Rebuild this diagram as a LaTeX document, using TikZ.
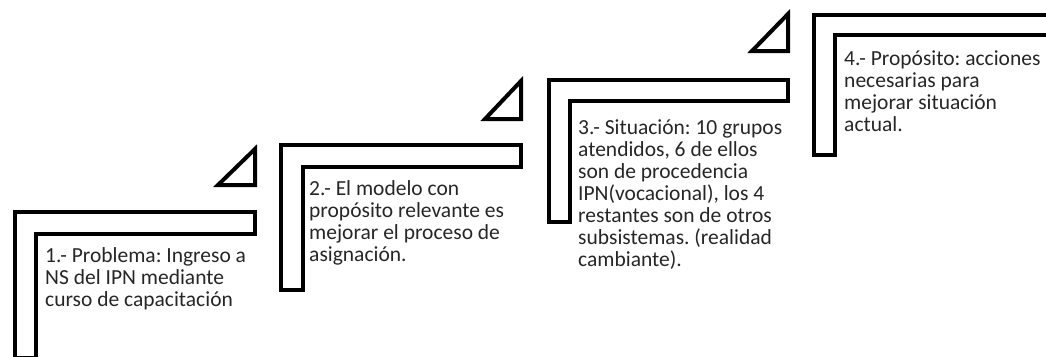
\documentclass[tikz,border=0pt]{standalone}
\usepackage{fontspec}
\setmainfont{Carlito}
\usetikzlibrary{positioning}
\frenchspacing

\begin{document}
\begin{tikzpicture}[
  x=1pt, y=-1pt,
  stair/.style={draw, line width=4pt},
  wedge/.style={draw, line width=4pt},
  note/.style={anchor=base west, align=left, inner sep=0pt, text=black!85, font=\fontsize{21.5}{22}\selectfont}
]
\useasboundingbox (0,0) rectangle (1046,356);

% steps
\draw[stair] (15,212) -- (255,212) -- (255,234) -- (36,234) -- (36,358) -- (15,358) -- cycle;
\draw[stair] (281,145) -- (521,145) -- (521,167) -- (303,167) -- (303,290) -- (281,290) -- cycle;
\draw[stair] (549,80) -- (788,80) -- (788,101) -- (570,101) -- (570,222) -- (549,222) -- cycle;
\draw[stair] (814,14.5) -- (1060,14.5) -- (1060,35) -- (835,35) -- (835,155) -- (814,155) -- cycle;

% corners
\draw[wedge] (255,149) -- (255,185) -- (218,185) -- cycle;
\draw[wedge] (521,81) -- (521,119) -- (485,119) -- cycle;
\draw[wedge] (788,14) -- (788,51) -- (752,51) -- cycle;

% base anchor sits on the last line
\node[note] (problema) at (45,306) {1.- Problema: Ingreso a\\NS del IPN mediante\\curso de capacitación};
\node[note] (modelo) at (309,261) {2.- El modelo con\\propósito relevante es\\mejorar el proceso de\\asignación.};
\node[note] (situacion) at (578,266) {3.- Situación: 10 grupos\\atendidos, 6 de ellos\\son de procedencia\\IPN(vocacional), los 4\\restantes son de otros\\subsistemas. (realidad\\cambiante).};
\node[note] (proposito) at (844,131) {4.- Propósito: acciones\\necesarias para\\mejorar situación\\actual.};
\end{tikzpicture}
\end{document}
